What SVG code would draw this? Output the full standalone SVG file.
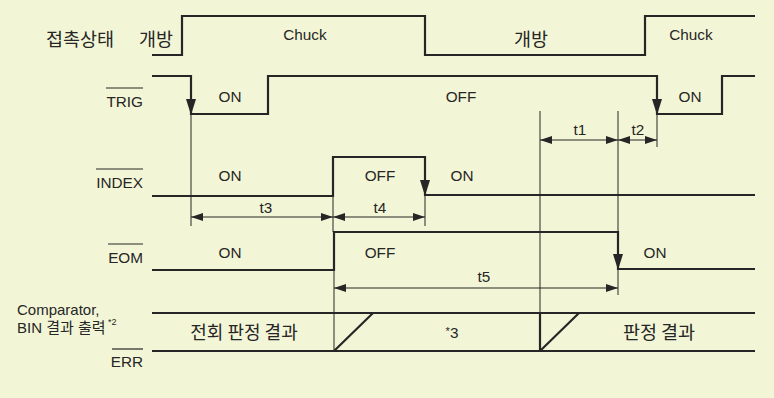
<svg xmlns="http://www.w3.org/2000/svg" width="774" height="398" viewBox="0 0 774 398">
<defs>
<style>
.sig{fill:none;stroke:#262626;stroke-width:2.2;stroke-linejoin:miter}
.thin{fill:none;stroke:#262626;stroke-width:1}
.lbl{font-family:"Liberation Sans",Arial,"Noto Sans CJK KR",sans-serif;fill:#262626;font-size:15.3px}
.kr{font-family:"Noto Sans CJK KR","Liberation Sans",sans-serif;fill:#262626;font-size:18.5px}
.dim{fill:none;stroke:#262626;stroke-width:1;marker-start:url(#al);marker-end:url(#ar)}
.ovl{stroke:#262626;stroke-width:1.2}
</style>
<marker id="ar" viewBox="0 0 12 8" refX="12" refY="4" markerWidth="12" markerHeight="8" markerUnits="userSpaceOnUse" orient="auto"><path d="M0,0 L12,4 L0,8 Z" fill="#262626"/></marker>
<marker id="al" viewBox="0 0 12 8" refX="0" refY="4" markerWidth="12" markerHeight="8" markerUnits="userSpaceOnUse" orient="auto"><path d="M12,0 L0,4 L12,8 Z" fill="#262626"/></marker>
<path id="down" d="M-5,-16 L5,-16 L0,0 Z" fill="#262626"/>
</defs>
<rect x="0" y="0" width="774" height="398" fill="#f3f6d6"/>

<g id="contact-state">
<path class="sig" d="M152,55 H182 V16 H425 V55 H645 V16 H755"/>
<text class="kr" x="46" y="46">접촉상태</text>
<text class="kr" x="139" y="46">개방</text>
<text class="lbl" x="305" y="40" text-anchor="middle">Chuck</text>
<text class="kr" x="531" y="46" text-anchor="middle">개방</text>
<text class="lbl" x="691" y="40" text-anchor="middle">Chuck</text>
</g>

<g id="trig">
<path class="sig" d="M152,76 H191 V114 H268 V76 H657 V114 H722 V76 H755"/>
<use href="#down" x="191" y="115"/>
<use href="#down" x="657" y="115"/>
<text class="lbl" x="143" y="107" text-anchor="end">TRIG</text>
<line class="ovl" x1="106" y1="88" x2="143" y2="88"/>
<text class="lbl" x="230" y="102" text-anchor="middle">ON</text>
<text class="lbl" x="461" y="102" text-anchor="middle">OFF</text>
<text class="lbl" x="690" y="102" text-anchor="middle">ON</text>
</g>

<g id="index">
<path class="sig" d="M152,196 H333 V157 H425 V195 H755"/>
<use href="#down" x="425" y="196"/>
<text class="lbl" x="143" y="188" text-anchor="end">INDEX</text>
<line class="ovl" x1="96" y1="169" x2="143" y2="169"/>
<text class="lbl" x="230" y="181" text-anchor="middle">ON</text>
<text class="lbl" x="380" y="181" text-anchor="middle">OFF</text>
<text class="lbl" x="462" y="181" text-anchor="middle">ON</text>
</g>

<g id="eom">
<path class="sig" d="M152,270 H334 V232 H618 V269 H755"/>
<use href="#down" x="618" y="270"/>
<text class="lbl" x="143" y="263" text-anchor="end">EOM</text>
<line class="ovl" x1="108" y1="244" x2="143" y2="244"/>
<text class="lbl" x="230" y="258" text-anchor="middle">ON</text>
<text class="lbl" x="380" y="258" text-anchor="middle">OFF</text>
<text class="lbl" x="655" y="258" text-anchor="middle">ON</text>
</g>

<g id="comparator">
<path class="sig" d="M152,313 H755 M152,351 H755"/>
<path class="sig" d="M334,351 L373,313 M540,351 L579,313" stroke-width="1.8"/>
<path class="sig" d="M540,313 V351" stroke-width="1.8"/>
<text class="lbl" x="17" y="315" style="font-size:15px">Comparator,</text>
<text class="lbl" x="17" y="333" style="font-size:15px">BIN 결과 출력</text>
<text class="lbl" x="108" y="325" style="font-size:9px">*2</text>
<text class="lbl" x="143" y="367" text-anchor="end">ERR</text>
<line class="ovl" x1="112" y1="349" x2="143" y2="349"/>
<text class="kr" x="244" y="339" text-anchor="middle" style="font-size:18px">전회 판정 결과</text>
<text class="lbl" x="452" y="338" text-anchor="middle"><tspan style="font-size:11px" dy="-3">*</tspan><tspan dy="3">3</tspan></text>
<text class="kr" x="659" y="339" text-anchor="middle" style="font-size:18.5px">판정 결과</text>
</g>

<g id="connectors">
<line class="thin" x1="191" y1="115" x2="191" y2="226"/>
<line class="thin" x1="333" y1="196" x2="333" y2="232"/>
<line class="thin" x1="334" y1="270" x2="334" y2="351"/>
<line class="thin" x1="425" y1="196" x2="425" y2="226"/>
<line class="thin" x1="540" y1="111" x2="540" y2="313"/>
<line class="thin" x1="618" y1="111" x2="618" y2="232"/>
<line class="thin" x1="618" y1="270" x2="618" y2="295"/>
<line class="thin" x1="657" y1="115" x2="657" y2="147"/>
<line class="dim" x1="191" y1="217" x2="333" y2="217"/>
<line class="dim" x1="333" y1="217" x2="425" y2="217"/>
<line class="dim" x1="540" y1="140" x2="618" y2="140"/>
<line class="dim" x1="618" y1="140" x2="657" y2="140"/>
<line class="dim" x1="334" y1="288" x2="618" y2="288"/>
<text class="lbl" x="266" y="213" text-anchor="middle">t3</text>
<text class="lbl" x="380" y="213" text-anchor="middle">t4</text>
<text class="lbl" x="580" y="135" text-anchor="middle">t1</text>
<text class="lbl" x="638" y="135" text-anchor="middle">t2</text>
<text class="lbl" x="484" y="282" text-anchor="middle">t5</text>
</g>
</svg>
